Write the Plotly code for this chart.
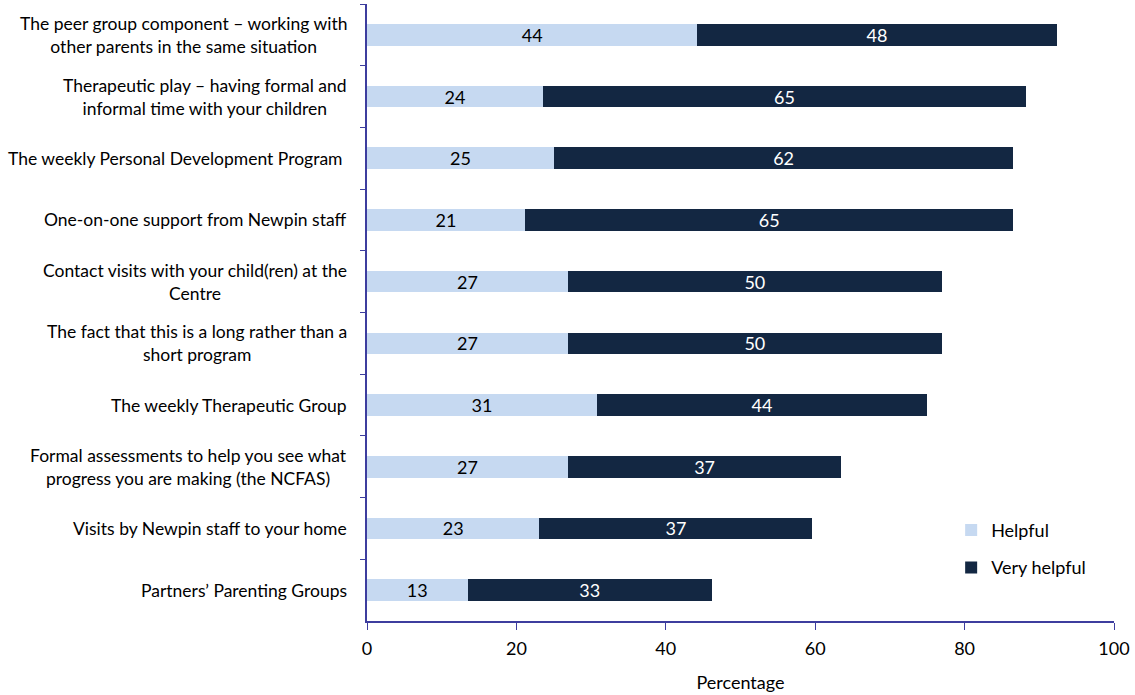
import plotly.graph_objects as go

categories = [
    "The peer group component – working with<br>other parents in the same situation",
    "Therapeutic play – having formal and<br>informal time with your children",
    "The weekly Personal Development Program ",
    "One-on-one support from Newpin staff",
    "Contact visits with your child(ren) at the<br>Centre",
    "The fact that this is a long rather than a<br>short program",
    "The weekly Therapeutic Group",
    "Formal assessments to help you see what<br>progress you are making (the NCFAS)",
    "Visits by Newpin staff to your home",
    "Partners’ Parenting Groups",
]
helpful = [44.23, 23.53, 25.00, 21.15, 26.92, 26.92, 30.77, 26.92, 23.08, 13.46]
very_helpful = [48.08, 64.71, 61.54, 65.38, 50.00, 50.00, 44.23, 36.54, 36.54, 32.69]

FONT = "Lato"
AXIS_COLOR = "#3d3d9e"

fig = go.Figure()
fig.add_trace(go.Bar(
    y=categories, x=helpful, orientation="h", name="Helpful",
    marker=dict(color="#c6d9f1", line=dict(width=0)),
    texttemplate="%{x:.0f}", textposition="inside", insidetextanchor="middle",
    textangle=0, constraintext="none",
    textfont=dict(color="black", size=18, family=FONT),
    legendgroup="a",
))
fig.add_trace(go.Bar(
    y=categories, x=very_helpful, orientation="h", name="Very helpful",
    marker=dict(color="#132742", line=dict(width=0)),
    texttemplate="%{x:.0f}", textposition="inside", insidetextanchor="middle",
    textangle=0, constraintext="none",
    textfont=dict(color="white", size=18, family=FONT),
    legendgroup="b",
))

annotations = [
    dict(xref="paper", yref="y", x=0, y=c, text=c, xanchor="right", xshift=-18,
         align="center", showarrow=False, font=dict(size=17.5, family=FONT, color="black"))
    for c in categories
]

fig.update_layout(
    width=1135, height=695,
    margin=dict(l=367, r=21, t=4, b=74),
    barmode="stack", bargap=0.65,
    plot_bgcolor="white", paper_bgcolor="white",
    font=dict(family=FONT, size=18, color="black"),
    uniformtext=dict(mode="show", minsize=10),
    annotations=annotations,
    legend=dict(x=0.782, y=0.177, xanchor="left", yanchor="top",
                font=dict(size=18, family=FONT), tracegroupgap=11,
                traceorder="grouped", itemwidth=30, bgcolor="rgba(0,0,0,0)"),
    xaxis=dict(range=[0, 100], dtick=20, showgrid=False, zeroline=False,
               showline=True, linecolor=AXIS_COLOR, linewidth=1.5,
               ticks="outside", ticklen=7, tickcolor=AXIS_COLOR,
               ticklabelstandoff=4,
               tickfont=dict(size=18, family=FONT),
               title=dict(text="Percentage", font=dict(size=18, family=FONT), standoff=18)),
    yaxis=dict(type="category", categoryarray=categories, autorange="reversed",
               showticklabels=False, showgrid=False, zeroline=False,
               showline=True, linecolor=AXIS_COLOR, linewidth=1.5,
               ticks="outside", ticklen=5, tickcolor=AXIS_COLOR, tickson="boundaries"),
)

fig.write_html("out.html", config={"displayModeBar": False},
               post_script="document.body.style.margin='0';document.body.style.padding='0';document.documentElement.style.overflow='hidden';")
